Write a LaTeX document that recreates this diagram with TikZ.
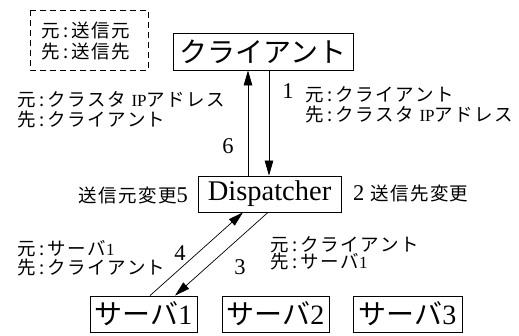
\documentclass[tikz,border=0pt]{standalone}
\usepackage{fontspec}
\setmainfont{Liberation Serif}
\newfontfamily\jp{Noto Sans CJK JP}
\newfontfamily\jps[LetterSpace=8]{Noto Sans CJK JP}
\usetikzlibrary{arrows.meta}
\newcommand\ipx{{\fontsize{17}{18}\selectfont\rmfamily IP}}
\newcommand\onex{{\fontsize{17}{18}\selectfont\rmfamily 1}}
\newcommand\cln{\hspace{3.5pt}:\hspace{3.5pt}}
\tikzset{
  box/.style={draw, line width=0.8pt, inner sep=0pt, minimum height=36pt, font=\fontsize{28}{32}\selectfont\jp},
  lbl/.style={inner sep=0pt, align=left, font=\fontsize{18.5}{20.5}\selectfont\jps},
  num/.style={inner sep=0pt, font=\fontsize{22.5}{24}\selectfont\rmfamily},
  arr/.style={line width=0.7pt, -{Triangle[length=15pt,width=8.5pt]}},
}
\begin{document}
\begin{tikzpicture}[x=1pt,y=-1pt]
\useasboundingbox (0,0) rectangle (519,335);
% legend
\draw[line width=0.8pt, dash pattern=on 6pt off 4pt] (30,10) rectangle (148,70);
\node[lbl, anchor=west] (legend) at (41,41) {元\cln 送信元\\先\cln 送信先};
% boxes
\node[box, minimum width=180pt, minimum height=37pt] (client) at (263,51.5) {クライアント};
\node[box, minimum width=143pt, font=\fontsize{28.5}{32}\selectfont\rmfamily] (disp) at (269.5,194) {Dispatcher};
\node[box, minimum width=107pt] (s1) at (143.5,314) {サーバ{\rmfamily 1}};
\node[box, minimum width=107pt] (s2) at (275.5,314) {サーバ{\rmfamily 2}};
\node[box, minimum width=109pt] (s3) at (407.5,314) {サーバ{\rmfamily 3}};
% arrows
\draw[arr] ([xshift=-21.5pt]disp.north) -- ([xshift=-15pt]client.south);
\draw[arr] ([xshift=6pt]client.south) -- ([xshift=-0.5pt]disp.north);
\draw[arr] ([xshift=6.5pt]s1.north) -- ([xshift=-26.5pt]disp.south);
\draw[arr] ([xshift=-1.5pt]disp.south) -- ([xshift=31.5pt]s1.north);
% labels
\node[lbl, anchor=west] (tl) at (17,110) {元\cln クラスタ \ipx アドレス\\先\cln クライアント};
\node[lbl, anchor=west] (tr) at (305,105) {元\cln クライアント\\先\cln クラスタ \ipx アドレス};
\node[num] (n1) at (288,91) {1};
\node[num] (n6) at (228,146) {6};
\node[lbl, anchor=east] (l5) at (188,195) {送信元変更{\fontsize{22.5}{24}\selectfont\rmfamily 5}};
\node[lbl, anchor=west] (l2) at (353,194) {{\fontsize{22.5}{24}\selectfont\rmfamily 2} 送信先変更};
\node[lbl, anchor=west, font=\fontsize{18.5}{18.5}\selectfont\jps] (bl) at (17,258) {元\cln サーバ\onex\\先\cln クライアント};
\node[lbl, anchor=west, font=\fontsize{18.5}{17.5}\selectfont\jps] (br) at (270,253.5) {元\cln クライアント\\先\cln サーバ\onex};
\node[num] (n4) at (180,253) {4};
\node[num] (n3) at (240,267) {3};
\end{tikzpicture}
\end{document}
